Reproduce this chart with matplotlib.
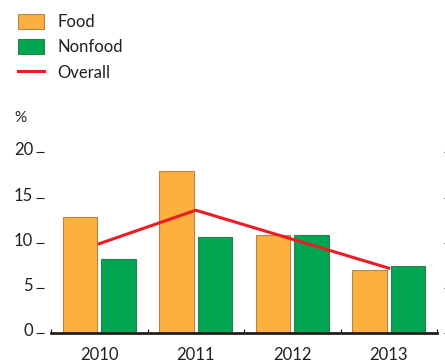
import matplotlib
matplotlib.use("Agg")
import matplotlib.pyplot as plt
import matplotlib.transforms as mtransforms
import numpy as np

years = ["2010", "2011", "2012", "2013"]
food = [12.8, 17.9, 10.9, 7.0]
nonfood = [8.2, 10.6, 10.9, 7.4]
overall = [9.9, 13.6, 10.4, 7.2]
yticks = [0, 5, 10, 15, 20]

plt.rcParams['font.family'] = ['Lato', 'DejaVu Sans']

W, H = 445, 362
fig = plt.figure(figsize=(W/100, H/100), dpi=100)
left, right, bottom, top = 51, 437, 333.3, 152.3
ax = fig.add_axes([left/W, 1-bottom/H, (right-left)/W, (bottom-top)/H])

x = np.arange(len(years))
bw = 0.36
off = 0.2
food_c = '#FBB040'
green_c = '#00A651'
hf = ax.bar(x - off, food, bw, color=food_c, edgecolor='#B0884A', linewidth=0.8, label='Food', zorder=2)
hn = ax.bar(x + off, nonfood, bw, color=green_c, edgecolor='#2E7D4A', linewidth=0.8, label='Nonfood', zorder=2)
ho, = ax.plot(x, overall, color='#ED1C24', linewidth=2.2, label='Overall', zorder=3)

ax.set_xlim(-0.5, 3.5)
ax.set_ylim(0, 20)
for s in ['top', 'left', 'right']:
    ax.spines[s].set_visible(False)
ax.spines['bottom'].set_linewidth(2.0)
ax.spines['bottom'].set_color('#231F20')
ax.spines['bottom'].set_zorder(4)

ax.spines['left'].set_position(('outward', 5))
ax.spines['right'].set_position(('outward', 5))
ax.set_yticks(yticks)
ax.set_yticklabels([str(v) for v in yticks])
ax.tick_params(axis='y', which='major', direction='out', length=6, width=0.8,
               color='#231F20', labelsize=12, pad=2, labelcolor='#231F20',
               right=True, labelright=False)
shift = mtransforms.ScaledTranslation(0, 3.5/100, fig.dpi_scale_trans)
for lab in ax.get_yticklabels():
    lab.set_transform(lab.get_transform() + shift)

ax.set_xticks(x)
ax.set_xticklabels(years)
ax.set_xticks(np.arange(-0.5, 4.0, 1.0), minor=True)
ax.tick_params(axis='x', which='major', length=0, labelsize=12, pad=10, labelcolor='#231F20')
ax.tick_params(axis='x', which='minor', direction='in', length=3, width=0.9, color='#231F20')

fig.text(14/W, 1-118/H, '%', fontsize=11, color='#231F20', va='center', ha='left')

leg = fig.legend(handles=[hf, hn, ho], labels=['Food', 'Nonfood', 'Overall'],
                 loc='upper left', bbox_to_anchor=(11/W, 1-7/H), frameon=False,
                 fontsize=12, handlelength=1.6, handleheight=1.0, labelspacing=0.55,
                 handletextpad=0.8, borderaxespad=0)
for t in leg.get_texts():
    t.set_color('#231F20')

fig.savefig('out.png', dpi=100)
